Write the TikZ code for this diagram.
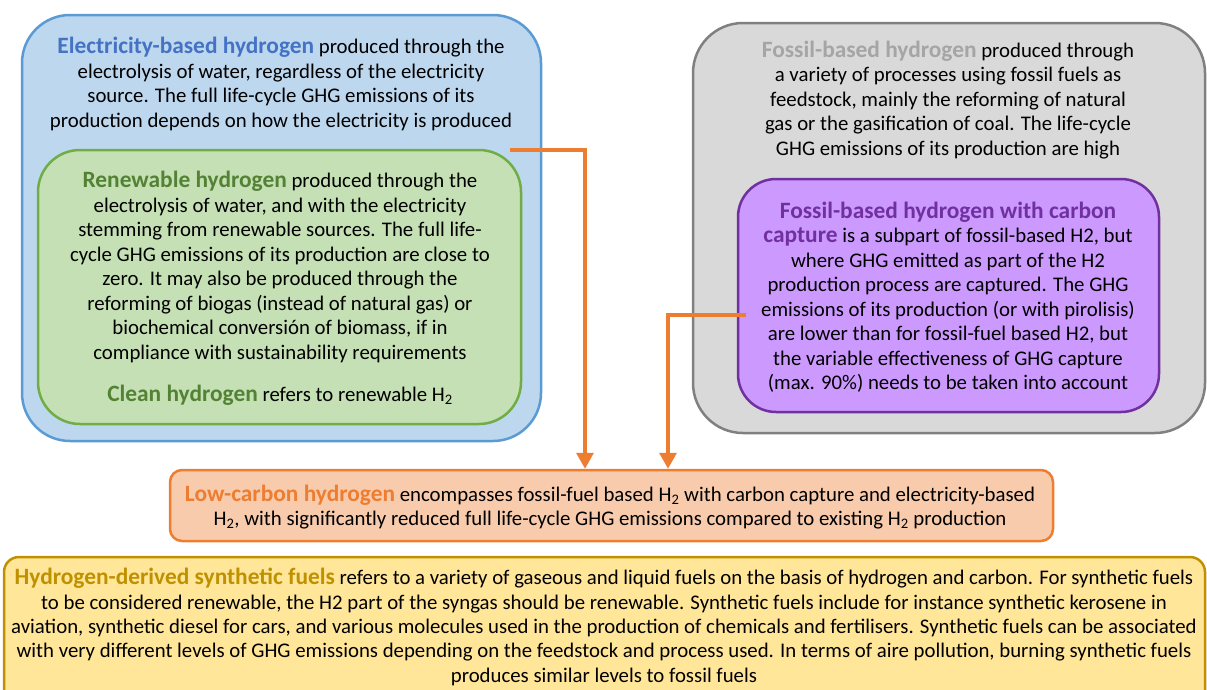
\documentclass[tikz,border=0pt]{standalone}
\usepackage{fontspec}
\setmainfont{Carlito}
\usetikzlibrary{arrows.meta}
\definecolor{blueFill}{HTML}{BDD7EE}
\definecolor{blueLine}{HTML}{5B9BD5}
\definecolor{blueText}{HTML}{4472C4}
\definecolor{greenFill}{HTML}{C5E0B4}
\definecolor{greenLine}{HTML}{70AD47}
\definecolor{greenText}{HTML}{548235}
\definecolor{grayFill}{HTML}{D9D9D9}
\definecolor{grayLine}{HTML}{808080}
\definecolor{grayText}{HTML}{A5A5A5}
\definecolor{purpFill}{HTML}{CC99FF}
\definecolor{purpLine}{HTML}{7030A0}
\definecolor{purpText}{HTML}{7030A0}
\definecolor{orFill}{HTML}{F8CBAD}
\definecolor{orLine}{HTML}{ED7D31}
\definecolor{orText}{HTML}{ED7D31}
\definecolor{yeFill}{HTML}{FFE699}
\definecolor{yeLine}{HTML}{BF9000}
\definecolor{yeText}{HTML}{BF9000}
\newcommand{\hd}[2]{{\fontsize{23.4}{24.5}\selectfont\bfseries\color{#1}#2}}
\newcommand{\Htwo}{H\textsubscript{2}}
\begin{document}
\begin{tikzpicture}[x=1pt,y=-1pt,
  box/.style={draw, line width=2.5pt, inner sep=0pt},
  txt/.style={align=center, inner sep=0pt, text=black,
    font=\fontsize{20.8}{24.5}\selectfont},
  arr/.style={draw=orLine, line width=3.5pt,
    -{Triangle[width=17pt,length=16pt]}}]
\useasboundingbox (0,0) rectangle (1207,689);
% boxes
\node[box, draw=blueLine, fill=blueFill, rounded corners=48pt,
  minimum width=519pt, minimum height=426pt] (blue) at (281.5,228) {};
\node[box, draw=greenLine, fill=greenFill, rounded corners=42pt,
  minimum width=483pt, minimum height=274pt] (green) at (279.5,287) {};
\node[box, draw=grayLine, fill=grayFill, rounded corners=50pt,
  minimum width=512pt, minimum height=410pt] (gray) at (949,228) {};
\node[box, draw=purpLine, fill=purpFill, rounded corners=38pt,
  minimum width=421pt, minimum height=233pt] (purp) at (948.5,295.5) {};
\node[box, draw=orLine, fill=orFill, rounded corners=12pt,
  minimum width=883pt, minimum height=71pt] (low) at (611.5,505.5) {};
\node[box, draw=yeLine, fill=yeFill, rounded corners=15pt,
  minimum width=1201pt, minimum height=150pt] (syn) at (604.5,632) {};
% texts
\node[txt] (blueT) at (281,84) {\hd{blueText}{Electricity-based hydrogen} produced through the\\
electrolysis of water, regardless of the electricity\\
source. The full life-cycle GHG emissions of its\\
production depends on how the electricity is produced};
\node[txt] (greenT) at (280,267) {\hd{greenText}{Renewable hydrogen} produced through the\\
electrolysis of water, and with the electricity\\
stemming from renewable sources. The full life-\\
cycle GHG emissions of its production are close to\\
zero. It may also be produced through the\\
reforming of biogas (instead of natural gas) or\\
biochemical conversión of biomass, if in\\
compliance with sustainability requirements};
\node[txt] (cleanT) at (280,395) {\hd{greenText}{Clean hydrogen} refers to renewable \Htwo};
\node[txt] (grayT) at (948,100) {\hd{grayText}{Fossil-based hydrogen} produced through\\
a variety of processes using fossil fuels as\\
feedstock, mainly the reforming of natural\\
gas or the gasification of coal. The life-cycle\\
GHG emissions of its production are high};
\node[txt] (purpT) at (948,297) {\hd{purpText}{Fossil-based hydrogen with carbon}\\
\hd{purpText}{capture} is a subpart of fossil-based H2, but\\
where GHG emitted as part of the H2\\
production process are captured. The GHG\\
emissions of its production (or with pirolisis)\\
are lower than for fossil-fuel based H2, but\\
the variable effectiveness of GHG capture\\
(max. 90\%) needs to be taken into account};
\node[txt] (lowT) at (610,507) {\hd{orText}{Low-carbon hydrogen} encompasses fossil-fuel based \Htwo{} with carbon capture and electricity-based\\
\Htwo, with significantly reduced full life-cycle GHG emissions compared to existing \Htwo{} production};
\node[txt, font=\fontsize{20.8}{24.3}\selectfont] (synT) at (604,627) {\hd{yeText}{Hydrogen-derived synthetic fuels} refers to a variety of gaseous and liquid fuels on the basis of hydrogen and carbon. For synthetic fuels\\
to be considered renewable, the H2 part of the syngas should be renewable. Synthetic fuels include for instance synthetic kerosene in\\
aviation, synthetic diesel for cars, and various molecules used in the production of chemicals and fertilisers. Synthetic fuels can be associated\\
with very different levels of GHG emissions depending on the feedstock and process used. In terms of aire pollution, burning synthetic fuels\\
produces similar levels to fossil fuels};
% connectors
\coordinate (a1s) at (510,150);
\coordinate (a1x) at (585,0);
\coordinate (a2s) at (746,315);
\coordinate (a2x) at (668,0);
\draw[arr] (a1s) -| (a1x |- low.north);
\draw[arr] (a2s) -| (a2x |- low.north);
\end{tikzpicture}
\end{document}
